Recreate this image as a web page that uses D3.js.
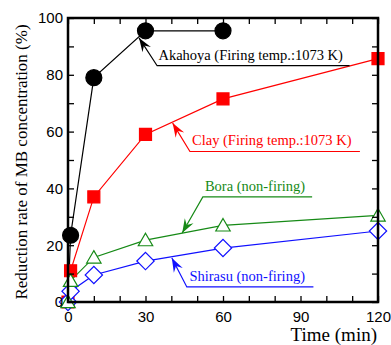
<!DOCTYPE html>
<html><head><meta charset="utf-8">
<script src="https://cdn.jsdelivr.net/npm/d3@7"></script>
<style>body{margin:0;background:#fff}svg{display:block}</style>
</head><body>
<svg id="c" width="391" height="345"></svg>
<script>
const times = [0, 1, 10, 30, 60, 120];
const akahoya = [0, 23.5, 79, 95.5, 95.5, null];
const clay = [0, 11, 37, 59, 71.5, 85.7];
const bora = [0, 7.5, 15.7, 21.8, 27, 30.5];
const shirasu = [0, 3.8, 9.5, 14.4, 19, 25];
const xTicks = [0,10,20,30,40,50,60,70,80,90,100,110,120];
const xLabels = [0,30,60,90,120];
const yTicks = [0,10,20,30,40,50,60,70,80,90,100];
const yLabels = [0,20,40,60,80,100];
const seriesNames = ["Akahoya (Firing temp.:1073 K)","Clay (Firing temp.:1073 K)","Bora (non-firing)","Shirasu (non-firing)"];

const svg = d3.select("#c");
const x = d3.scaleLinear([0,120],[68,378]);
const y = d3.scaleLinear([0,100],[302,18]);

const series = [
  {name: seriesNames[0], vals: akahoya, color:"#000000", sym:"circle", skipZeroMarker:true},
  {name: seriesNames[1], vals: clay, color:"#ff0000", sym:"square"},
  {name: seriesNames[3], vals: shirasu, color:"#1010ff", sym:"diamond"},
  {name: seriesNames[2], vals: bora, color:"#168a16", sym:"triangle"}
];

// annotation layout (data coordinates): tip, elbow, line end, text start/baseline
const annots = [
  {name: seriesNames[0], color:"#000", tip:[27.5,93], elbow:[34.5,83.2], end:[109,83.2], text:[35,85.3]},
  {name: seriesNames[1], color:"#ff0000", tip:[40.5,63.0], elbow:[47.2,53.0], end:[113,53.0], text:[48,55.2]},
  {name: seriesNames[2], color:"#168a16", tip:[44.2,24.3], elbow:[52.2,37.0], end:[94.5,37.0], text:[53,39.0]},
  {name: seriesNames[3], color:"#1010ff", tip:[40.2,15.5], elbow:[46.0,5.3], end:[95,5.3], text:[47,7.5]}
];

function sym(type){
  if(type==="circle") return d3.symbol(d3.symbolCircle, Math.PI*8*8)();
  if(type==="square") return d3.symbol(d3.symbolSquare, 144)();
  if(type==="triangle") return d3.symbol(d3.symbolTriangle, 90)();
  if(type==="diamond") return d3.symbol(d3.symbolSquare, 150)();
}

const line = d3.line().defined(d=>d[1]!=null).x(d=>x(d[0])).y(d=>y(d[1]));

series.forEach(s=>{
  const pts = times.map((t,i)=>[t,s.vals[i]]).filter(d=>d[1]!=null);
  svg.append("path").attr("d", line(pts)).attr("fill","none").attr("stroke",s.color).attr("stroke-width",1.2);
});
series.forEach(s=>{
  const pts = times.map((t,i)=>[t,s.vals[i]]).filter(d=>d[1]!=null).filter(d=>!(s.skipZeroMarker && d[0]===0));
  const filled = s.sym==="circle"||s.sym==="square";
  svg.selectAll(null).data(pts).enter().append("path")
    .attr("d", sym(s.sym))
    .attr("transform", d=>`translate(${x(d[0])},${y(d[1])})` + (s.sym==="diamond"?" rotate(45)":"") + (s.sym==="triangle"?" translate(0,1.5)":""))
    .attr("fill", filled? s.color : "#fff")
    .attr("stroke", s.color).attr("stroke-width", 1.2);
});

// axes
const gB = svg.append("g").attr("transform",`translate(0,${y(0)})`)
  .call(d3.axisBottom(x).tickValues(xTicks).tickSize(-6).tickPadding(9)
    .tickFormat(d=>xLabels.includes(d)? d : ""));
const gT = svg.append("g").attr("transform",`translate(0,${y(100)})`)
  .call(d3.axisTop(x).tickValues(xTicks).tickSize(-6).tickFormat(""));
const gL = svg.append("g").attr("transform",`translate(${x(0)},0)`)
  .call(d3.axisLeft(y).tickValues(yTicks).tickSize(-6).tickPadding(5)
    .tickFormat(d=>yLabels.includes(d)? d : ""));
const gR = svg.append("g").attr("transform",`translate(${x(120)},0)`)
  .call(d3.axisRight(y).tickValues(yTicks).tickSize(-6).tickFormat(""));
[gB,gT,gL,gR].forEach(g=>{
  g.select(".domain").remove();
  g.selectAll(".tick line").attr("stroke","#000").attr("stroke-width",1.3);
  g.selectAll("text").attr("font-family","Liberation Sans, Arial, sans-serif").attr("font-size",15).attr("fill","#000");
});
svg.append("rect").attr("x",x(0)).attr("y",y(100)).attr("width",x(120)-x(0)).attr("height",y(0)-y(100))
  .attr("fill","none").attr("stroke","#000").attr("stroke-width",2.5);

// titles
svg.append("text").attr("x",377).attr("y",341).attr("text-anchor","end")
  .attr("font-family","Liberation Serif, Times New Roman, serif").attr("font-size",19).text("Time (min)");
svg.append("text").attr("transform",`translate(27,${(y(0)+y(100))/2+2}) rotate(-90)`).attr("text-anchor","middle")
  .attr("font-family","Liberation Serif, Times New Roman, serif").attr("font-size",17).text("Reduction rate of MB concentration (%)");

// annotations
annots.forEach(a=>{
  const tip=[x(a.tip[0]),y(a.tip[1])], el=[x(a.elbow[0]),y(a.elbow[1])], en=[x(a.end[0]),y(a.end[1])];
  svg.append("path").attr("d",`M${en[0]},${en[1]}L${el[0]},${el[1]}L${tip[0]},${tip[1]}`)
    .attr("fill","none").attr("stroke",a.color).attr("stroke-width",1.2);
  const dx=tip[0]-el[0], dy=tip[1]-el[1], L=Math.hypot(dx,dy), ux=dx/L, uy=dy/L, nx=-uy, ny=ux;
  const hl=14, hw=5;
  const p1=[tip[0]-hl*ux+hw*nx, tip[1]-hl*uy+hw*ny], p2=[tip[0]-0.65*hl*ux, tip[1]-0.65*hl*uy], p3=[tip[0]-hl*ux-hw*nx, tip[1]-hl*uy-hw*ny];
  svg.append("path").attr("d",`M${tip}L${p1}L${p2}L${p3}Z`).attr("fill",a.color);
  svg.append("text").attr("x",x(a.text[0])).attr("y",y(a.text[1])).attr("fill",a.color)
    .attr("font-family","Liberation Serif, Times New Roman, serif").attr("font-size",14.5).text(a.name);
});
</script>
</body></html>
